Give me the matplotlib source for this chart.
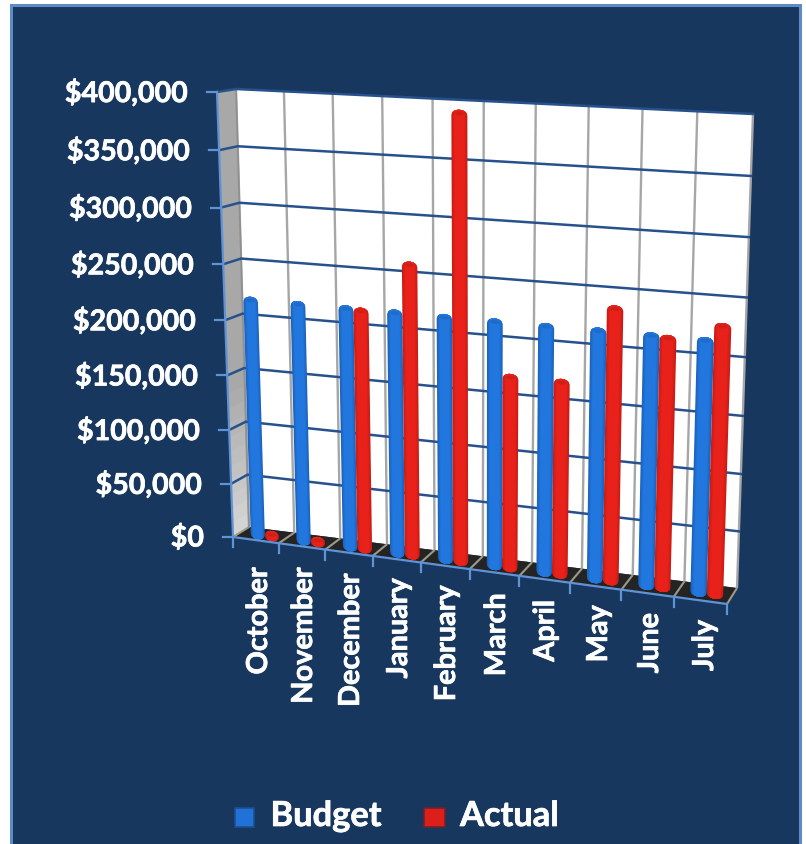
import numpy as np
import matplotlib
matplotlib.use("Agg")
import matplotlib.pyplot as plt
import matplotlib.patheffects as pe
from matplotlib.patches import Ellipse, Polygon, Rectangle

# -------------------------------------------------
# DATA
# -------------------------------------------------
MONTHS = ["October", "November", "December", "January", "February",
          "March", "April", "May", "June", "July"]
BUDGET = [215000] * 10
ACTUAL = [0, 0, 214000, 258000, 390000, 168000, 168000, 235000, 214000, 228000]
VALUE_TICKS = [0, 50000, 100000, 150000, 200000, 250000, 300000, 350000, 400000]
VMAX = 400000

# -------------------------------------------------
# COLORS
# -------------------------------------------------
NAVY = "#17375E"
FRAME = "#5F8AC4"
AXIS = "#5F93D6"
GRID_H = "#27518C"
GRID_V = "#A6A6A6"
FLOOR = "#242424"
FLOOR_LINE = "#9C9A88"
BLUE_MID, BLUE_EDGE = "#2277DE", "#1B63BE"
RED_MID, RED_EDGE = "#E8221A", "#C81C15"

# -------------------------------------------------
# BOX PROJECTION
# u runs along the months, v up the value axis, d from front to back wall
# -------------------------------------------------
BOX = {
    (0, 0, 0): (233, 537), (1, 0, 0): (727, 604),
    (0, 1, 0): (217, 92), (1, 1, 0): (741, 122),
    (0, 0, 1): (249, 527), (1, 0, 1): (737, 588),
    (0, 1, 1): (236, 89), (1, 1, 1): (753, 114),
}
FORESHORTEN_U = 0.92
FORESHORTEN_V = 0.95


def warp(a, k):
    return a * k / (1 + (k - 1) * a)


def project(u, value, d):
    t = warp(u, FORESHORTEN_U)
    v = warp(value / VMAX, FORESHORTEN_V)
    x, y = 0.0, 0.0
    for (a, b, c), (px, py) in BOX.items():
        w = (t if a else 1 - t) * (v if b else 1 - v) * (d if c else 1 - d)
        x += w * px
        y += w * py
    return x, y


# -------------------------------------------------
# COLUMNS
# -------------------------------------------------
def blend(c1, c2, f):
    a = np.array(matplotlib.colors.to_rgb(c1))
    b = np.array(matplotlib.colors.to_rgb(c2))
    return tuple(a + (b - a) * f)


def cylinder(ax, u_center, value, half_u, mid, edge, zorder):
    d = 0.5
    ry = 5.0
    # nested outlines from the rim inward, so the shading has no seams
    for k, width in enumerate(np.linspace(1, 0.1, 10)):
        arc = np.linspace(-1, 1, 17) * width
        bottom, top = [], []
        for s in arc:
            # dome and base keep the full curve of the column
            bulge = ry * np.sqrt(max(0, 1 - s * s))
            x, y = project(u_center + s * half_u, 0, d)
            bottom.append((x, y + bulge))
            x, y = project(u_center + s * half_u, value, d)
            top.append((x, y - bulge))
        c = blend(edge, mid, min(1, (k / 4)))
        ax.add_patch(Polygon(bottom + top[::-1], closed=True, fc=c, ec="none", zorder=zorder + k * 0.0001))
    # slightly darker lid
    xl, yl = project(u_center - half_u, value, d)
    xr, yr = project(u_center + half_u, value, d)
    ax.add_patch(Ellipse(((xl + xr) / 2, (yl + yr) / 2 - 1.5), abs(xr - xl) * 0.6, ry * 0.8,
                         angle=np.degrees(np.arctan2(yr - yl, xr - xl)),
                         fc=blend(mid, "#000000", 0.1), ec="none", zorder=zorder + 0.002))


# -------------------------------------------------
# FIGURE
# -------------------------------------------------
fig = plt.figure(figsize=(8.06, 8.44), dpi=100, facecolor="white")
ax = fig.add_axes([0, 0, 1, 1])
ax.set_xlim(0, 806)
ax.set_ylim(844, 0)
ax.axis("off")
plt.rcParams["font.family"] = ["Lato", "DejaVu Sans"]
BOLD = [pe.withStroke(linewidth=0.5, foreground="white")]

ax.add_patch(Rectangle((10.5, 5), 789.5, 845, fc=NAVY, ec=FRAME, lw=2.2, zorder=0))

n = len(MONTHS)
months_u = np.arange(n + 1) / n

# left wall, lighter towards the floor; painted top-down so bands overlap
bands = 30
for i in range(bands, 0, -1):
    v1 = VMAX * i / bands
    c = blend("#D4D4D4", "#A8A8A8", min(1, ((i - 1) / bands) * 3.0))
    ax.add_patch(Polygon([project(0, 0, 0), project(0, 0, 1), project(0, v1, 1), project(0, v1, 0)],
                         fc=c, ec="none", zorder=1 + (bands - i) * 0.001))

# back wall and floor
ax.add_patch(Polygon([project(0, 0, 1), project(1, 0, 1), project(1, VMAX, 1), project(0, VMAX, 1)],
                     fc="white", ec="none", zorder=1.5))
ax.add_patch(Polygon([project(0, 0, 0), project(1, 0, 0), project(1, 0, 1), project(0, 0, 1)],
                     fc=FLOOR, ec="none", zorder=2))

# gridlines
for u in months_u:
    xs, ys = zip(project(u, 0, 1), project(u, VMAX, 1))
    ax.plot(xs, ys, color=GRID_V, lw=1.7, zorder=3, solid_capstyle="butt")
    xs, ys = zip(project(u, 0, 0), project(u, 0, 1))
    ax.plot(xs, ys, color=FLOOR_LINE, lw=1.5, zorder=3, solid_capstyle="butt")
ax.plot(*zip(project(0, 0, 1), project(0, VMAX, 1)), color="#8F8F8F", lw=1.2, zorder=3)

for val in VALUE_TICKS[1:]:
    xs, ys = zip(project(0, val, 0), project(0, val, 1), project(1, val, 1))
    ax.plot(xs, ys, color=GRID_H, lw=1.8, zorder=4, solid_joinstyle="miter")

# columns
half_u = 0.0155
for i in range(n):
    u_mid = (i + 0.5) / n
    cylinder(ax, u_mid - 0.013, BUDGET[i], half_u, BLUE_MID, BLUE_EDGE, 5 + i * 0.01)
    cylinder(ax, u_mid + 0.018, ACTUAL[i], half_u, RED_MID, RED_EDGE, 5.005 + i * 0.01)

# axis lines and ticks
ax.plot(*zip(project(0, 0, 0), project(0, VMAX, 0)), color=AXIS, lw=1.6, zorder=6)
ax.plot(*zip(project(0, 0, 0), project(1, 0, 0)), color=AXIS, lw=1.6, zorder=6)
for val in VALUE_TICKS:
    x, y = project(0, val, 0)
    ax.plot([x - 10, x], [y, y], color=AXIS, lw=1.6, zorder=6)
    ax.text(x - 29, y + 1, f"${val:,.0f}", ha="right", va="center", color="white",
            fontsize=20.6, fontweight="bold", zorder=7, path_effects=BOLD)
for u in months_u:
    x, y = project(u, 0, 0)
    ax.plot([x, x], [y, y + 10], color=AXIS, lw=1.6, zorder=6)

# month labels follow the slope of the floor
LABEL_X = [259, 304, 351, 399, 447, 497, 546, 599, 650, 705]
LABEL_TOP = [567, 567, 573, 578, 585, 593, 600, 605, 613, 620]
for name, x, top in zip(MONTHS, LABEL_X, LABEL_TOP):
    ax.text(x, top, name, rotation=90, ha="center", va="top", color="white",
            fontsize=20.8, fontweight="bold", zorder=7, path_effects=BOLD)

# legend
ax.add_patch(Rectangle((234.5, 807.5), 19, 19, fc="#2172D8", ec="#1F4E8C", lw=1.2, zorder=7))
ax.text(270.5, 816, "Budget", ha="left", va="center", color="white", fontsize=24.8,
        fontweight="bold", zorder=7, path_effects=BOLD)
ax.add_patch(Rectangle((423.5, 807.5), 21, 19, fc="#DC1F18", ec="#6E2230", lw=1.2, zorder=7))
ax.text(460, 816, "Actual", ha="left", va="center", color="white", fontsize=24.8,
        fontweight="bold", zorder=7, path_effects=BOLD)

fig.savefig("out.png", dpi=100, facecolor="white")
plt.close(fig)
